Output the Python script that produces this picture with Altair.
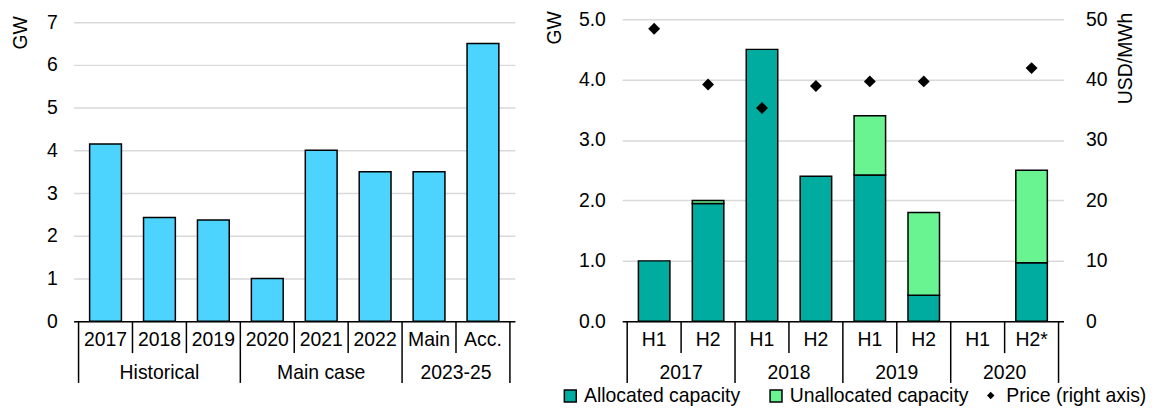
import altair as alt
import pandas as pd

# ---------------- data ----------------
left_cats = ["2017", "2018", "2019", "2020", "2021", "2022", "Main", "Acc."]
left_groups = ["Historical", "Historical", "Historical", "Main case", "Main case",
               "Main case", "2023-25", "2023-25"]
left_values = [4.15, 2.43, 2.37, 1.0, 4.0, 3.5, 3.5, 6.5]

right_halves = ["H1", "H2", "H1", "H2", "H1", "H2", "H1", "H2*"]
right_years = ["2017", "2017", "2018", "2018", "2019", "2019", "2020", "2020"]
allocated = [1.0, 1.95, 4.5, 2.4, 2.42, 0.43, None, 0.97]
unallocated = [0.0, 0.05, 0.0, 0.0, 0.98, 1.37, None, 1.53]
price = [48.4, 39.2, 35.3, 38.95, 39.7, 39.7, None, 41.9]

FONT = "Liberation Sans"
FS = 19.5
H = 304
W = 444
CYAN = "#4CD4FF"
TEAL = "#00AC9F"
LIGHT = "#6AF391"
GRID = "#D9D9D9"


def axis_frame(cats, groups):
    """Build label / separator tables for a two-level category axis."""
    n = len(cats)
    cat_df = pd.DataFrame({"pos": list(range(n)), "label": cats, "group": groups})
    grp_df = cat_df.groupby("group", sort=False)["pos"].mean().reset_index()
    short_b, long_b = [], []
    for i in range(n + 1):
        b = i - 0.5
        if i == 0 or i == n or groups[i] != groups[i - 1]:
            long_b.append(b)
        else:
            short_b.append(b)
    return cat_df, grp_df, pd.DataFrame({"pos": short_b}), pd.DataFrame({"pos": long_b})


def x_enc():
    return alt.X("pos:Q", scale=alt.Scale(domain=[-0.5, 7.5], nice=False, zero=False),
                 axis=alt.Axis(labels=False, ticks=False, grid=False, domain=True,
                               domainColor="black", domainWidth=1.5, title=None))


def bottom_layers(cats, groups):
    cat_df, grp_df, short_df, long_df = axis_frame(cats, groups)
    cat_txt = alt.Chart(cat_df).mark_text(font=FONT, fontSize=FS, color="black",
                                          baseline="middle").encode(
        x=x_enc(), y=alt.value(H + 19), text="label:N")
    grp_txt = alt.Chart(grp_df).mark_text(font=FONT, fontSize=FS, color="black",
                                          baseline="middle").encode(
        x=alt.X("pos:Q"), y=alt.value(H + 52), text="group:N")
    short_r = alt.Chart(short_df).mark_rule(color="black", strokeWidth=1.5).encode(
        x=alt.X("pos:Q"), y=alt.value(H), y2=alt.value(H + 32))
    long_r = alt.Chart(long_df).mark_rule(color="black", strokeWidth=1.5).encode(
        x=alt.X("pos:Q"), y=alt.value(H), y2=alt.value(H + 62))
    return [cat_txt, grp_txt, short_r, long_r]


# ---------------- left chart ----------------
left_df = pd.DataFrame({"pos": list(range(len(left_cats))), "cat": left_cats,
                        "value": left_values})
left_bars = alt.Chart(left_df).mark_bar(size=32, color=CYAN, stroke="black",
                                        strokeWidth=1.5).encode(
    x=x_enc(),
    y=alt.Y("value:Q",
            scale=alt.Scale(domain=[0, 7 * H / (H - 3)], nice=False),
            axis=alt.Axis(values=[0, 1, 2, 3, 4, 5, 6, 7], format="d", grid=True,
                          gridColor=GRID, gridWidth=1.5, ticks=False, domain=False,
                          labelPadding=16.5, labelFontSize=FS, labelFont=FONT,
                          labelColor="black", title="GW", titleFont=FONT,
                          titleFontSize=FS, titleFontWeight="normal",
                          titleColor="black", titleAngle=270, titleAlign="left",
                          titleBaseline="alphabetic", titleX=-47, titleY=30)),
)
left = alt.layer(left_bars, *bottom_layers(left_cats, left_groups)).properties(
    width=W, height=H)

# ---------------- right chart ----------------
rows = []
for i in range(len(right_halves)):
    if allocated[i]:
        rows.append({"pos": i, "series": "Allocated capacity", "value": allocated[i],
                     "ord": 0})
    if unallocated[i]:
        rows.append({"pos": i, "series": "Unallocated capacity",
                     "value": unallocated[i], "ord": 1})
cap_df = pd.DataFrame(rows)
price_df = pd.DataFrame({"pos": list(range(len(price))), "price": price,
                         "series": "Price (right axis)"}).dropna()

right_bars = alt.Chart(cap_df).mark_bar(size=31.7, stroke="black",
                                        strokeWidth=1.5).encode(
    x=x_enc(),
    y=alt.Y("value:Q", stack="zero",
            scale=alt.Scale(domain=[0, 5], nice=False),
            axis=alt.Axis(values=[0, 1, 2, 3, 4, 5], format=".1f", grid=True,
                          gridColor=GRID, gridWidth=1.5, ticks=False, domain=False,
                          labelPadding=17, labelFontSize=FS, labelFont=FONT,
                          labelColor="black", title="GW", titleFont=FONT,
                          titleFontSize=FS, titleFontWeight="normal",
                          titleColor="black", titleAngle=270, titleAlign="left",
                          titleBaseline="alphabetic", titleX=-62, titleY=25)),
    color=alt.Color("series:N",
                    scale=alt.Scale(domain=["Allocated capacity", "Unallocated capacity"],
                                    range=[TEAL, LIGHT]),
                    legend=alt.Legend(orient="none", legendX=-62, legendY=369,
                                      direction="horizontal", title=None, padding=0,
                                      symbolType="square", symbolSize=144,
                                      symbolStrokeColor="black", symbolStrokeWidth=1.5,
                                      labelFont=FONT, labelFontSize=FS,
                                      labelColor="black", labelOffset=4,
                                      columnPadding=26, labelLimit=400)),
    order=alt.Order("ord:Q"),
)

right_bottom = bottom_layers(right_halves, right_years)

right_base = alt.layer(right_bars, *right_bottom)

price_pts = alt.Chart(price_df).mark_point(filled=True, color="black", size=144,
                                           opacity=1).encode(
    x=alt.X("pos:Q"),
    y=alt.Y("price:Q", scale=alt.Scale(domain=[0, 50], nice=False),
            axis=alt.Axis(orient="right", values=[0, 10, 20, 30, 40, 50], grid=False,
                          ticks=False, domain=False, labelPadding=22,
                          labelFontSize=FS, labelFont=FONT, labelColor="black",
                          title="USD/MWh", titleFont=FONT, titleFontSize=FS,
                          titleFontWeight="normal", titleColor="black",
                          titleAngle=270, titleAlign="left",
                          titleBaseline="alphabetic", titleX=68, titleY=85)),
    shape=alt.Shape("series:N",
                    scale=alt.Scale(domain=["Price (right axis)"], range=["diamond"]),
                    legend=alt.Legend(orient="none", legendX=361, legendY=369,
                                      title=None, padding=0, symbolSize=56,
                                      symbolFillColor="black", symbolStrokeWidth=0,
                                      labelFont=FONT, labelFontSize=FS,
                                      labelColor="black", labelOffset=6,
                                      labelLimit=400)),
)

right = alt.layer(right_base, price_pts).resolve_scale(y="independent").properties(
    width=W, height=H)

chart = alt.hconcat(left, right, spacing=29).resolve_legend(
    color="independent", shape="independent"
).properties(
    padding={"left": 3, "top": 0, "right": 0, "bottom": 0}
).configure_view(stroke=None)

chart.save("out.html", embed_options={"renderer": "svg", "actions": False})
